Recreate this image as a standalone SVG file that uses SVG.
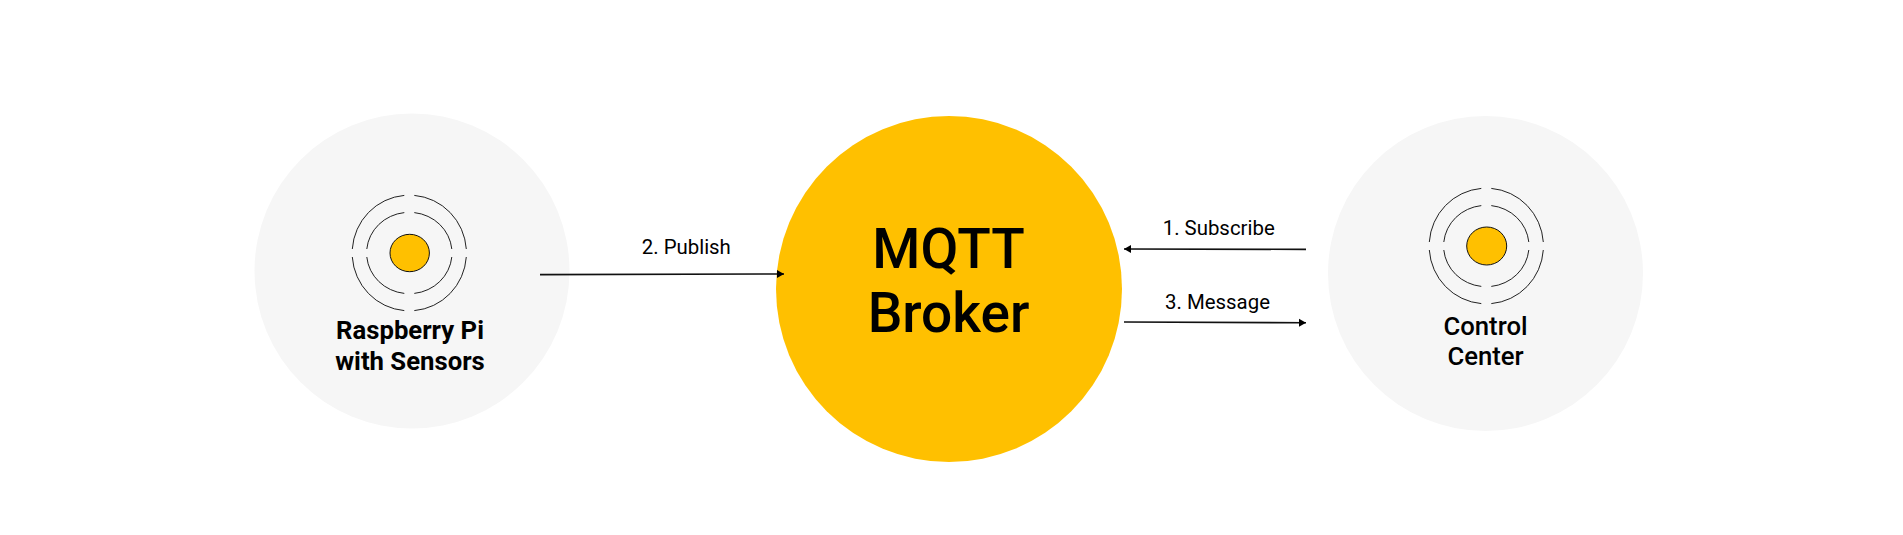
<svg xmlns="http://www.w3.org/2000/svg" width="1903" height="535" viewBox="0 0 1903 535">
<style>
text{font-family:Roboto,"Liberation Sans",sans-serif;fill:#000;text-anchor:middle}
.bg{fill:#f6f6f6}
.hub{fill:#ffc000}
.dot{fill:#ffc000;stroke:#111;stroke-width:1}
.ring{fill:none;stroke:#222;stroke-width:1}
.conn{fill:none;stroke:#111;stroke-width:1.6}
.lbl{font-size:20.4px;font-weight:400}
.name{font-size:25.7px}
.big{font-size:55px;font-weight:500}
</style>
<defs>
<marker id="arrow" markerUnits="userSpaceOnUse" markerWidth="9" markerHeight="10" refX="8" refY="5" orient="auto"><path d="M1 1L8 5L1 9Z" fill="#000"/></marker>
<g id="rings">
<path class="ring" d="M-5 -57.6A57 57.8 0 0 0 -57 -4M-57 4A57 57.8 0 0 0 -5 57.6M5 57.6A57 57.8 0 0 0 57 4M57 -4A57 57.8 0 0 0 5 -57.6"/>
<path class="ring" d="M-5 -40.4A42.5 40.7 0 0 0 -42.5 -4M-42.5 4A42.5 40.7 0 0 0 -5 40.4M5 40.4A42.5 40.7 0 0 0 42.5 4M42.5 -4A42.5 40.7 0 0 0 5 -40.4"/>
</g>
</defs>
<rect width="1903" height="535" fill="#fff"/>
<g id="node-raspberry-pi">
<circle class="bg" cx="412" cy="271" r="157.5"/>
<use href="#rings" x="409.3" y="253"/>
<ellipse class="dot" cx="409.7" cy="253" rx="19.7" ry="18.7"/>
<text class="name" font-weight="700" x="410" y="339">Raspberry Pi</text>
<text class="name" font-weight="700" x="410" y="369.5">with Sensors</text>
</g>
<g id="node-mqtt-broker">
<circle class="hub" cx="949" cy="289" r="173"/>
<text class="big" x="948.5" y="267.7">MQTT</text>
<text class="big" x="948.5" y="331.7">Broker</text>
</g>
<g id="node-control-center">
<circle class="bg" cx="1485.5" cy="273.5" r="157.5"/>
<use href="#rings" x="1486.3" y="246"/>
<ellipse class="dot" cx="1486.7" cy="246" rx="20" ry="19"/>
<text class="name" font-weight="500" x="1485.5" y="335">Control</text>
<text class="name" font-weight="500" x="1485.5" y="365">Center</text>
</g>
<g id="connectors">
<path class="conn" d="M540 274.6L784 274" marker-end="url(#arrow)"/>
<path class="conn" d="M1306 249.4L1124 249" marker-end="url(#arrow)"/>
<path class="conn" d="M1124 322L1306 322.8" marker-end="url(#arrow)"/>
<text class="lbl" x="686.3" y="254">2. Publish</text>
<text class="lbl" x="1218.7" y="234.7">1. Subscribe</text>
<text class="lbl" x="1217.5" y="308.7">3. Message</text>
</g>
</svg>
